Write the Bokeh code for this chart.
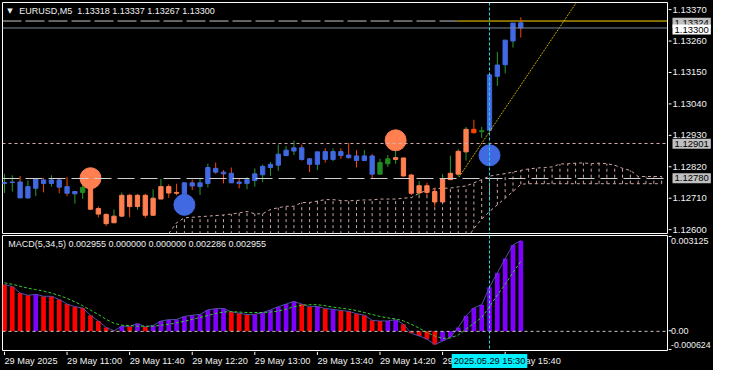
from bokeh.plotting import figure
from bokeh.models import Range1d, Label, Span
from bokeh.layouts import column, row
from bokeh.embed import file_html
from bokeh.resources import INLINE

# ---------------- data ----------------
symbol_title = "EURUSD,M5\u00a0\u00a01.13318 1.13337 1.13267 1.13300"
macd_title = "MACD(5,34,5) 0.002955 0.000000 0.000000 0.002286 0.002955"

body_a = [1.12766, 1.12766, 1.12768, 1.12752, 1.12779, 1.12775, 1.12775, 1.12775, 1.12752, 1.12735,
          1.12749, 1.12765, 1.12676, 1.12656, 1.12650, 1.12722, 1.12722, 1.12722, 1.12722, 1.12712,
          1.12752, 1.12752, 1.12732, 1.12765, 1.12765, 1.12765, 1.12818, 1.12815, 1.12802, 1.12798,
          1.12768, 1.12776, 1.12796, 1.12822, 1.12829, 1.12864, 1.12878, 1.12886, 1.12886, 1.12848,
          1.12872, 1.12873, 1.12873, 1.12873, 1.12861, 1.12858, 1.12858, 1.12858, 1.12835, 1.12848,
          1.12852, 1.12851, 1.12792, 1.12755, 1.12755, 1.12735, 1.12778, 1.12798, 1.12874, 1.12950,
          1.12950, 1.12945, 1.13138, 1.13172, 1.13258, 1.13317, 1.13318]
body_b = [1.12763, 1.12768, 1.12713, 1.12713, 1.12746, 1.12763, 1.12763, 1.12750, 1.12729, 1.12727,
          1.12732, 1.12674, 1.12657, 1.12624, 1.12627, 1.12650, 1.12683, 1.12683, 1.12653, 1.12653,
          1.12709, 1.12730, 1.12729, 1.12727, 1.12754, 1.12752, 1.12763, 1.12802, 1.12796, 1.12765,
          1.12763, 1.12763, 1.12773, 1.12793, 1.12818, 1.12826, 1.12859, 1.12875, 1.12846, 1.12829,
          1.12829, 1.12846, 1.12846, 1.12859, 1.12852, 1.12842, 1.12842, 1.12795, 1.12795, 1.12831,
          1.12846, 1.12789, 1.12729, 1.12730, 1.12732, 1.12699, 1.12699, 1.12776, 1.12795, 1.12872,
          1.12938, 1.12942, 1.12947, 1.13133, 1.13173, 1.13255, 1.13300]
high = [1.12796, 1.12791, 1.12789, 1.12773, 1.12779, 1.12782, 1.12791, 1.12779, 1.12785, 1.12735,
        1.12758, 1.12775, 1.12683, 1.12660, 1.12673, 1.12732, 1.12727, 1.12727, 1.12727, 1.12743,
        1.12779, 1.12760, 1.12762, 1.12765, 1.12776, 1.12782, 1.12831, 1.12835, 1.12809, 1.12818,
        1.12779, 1.12785, 1.12815, 1.12828, 1.12837, 1.12897, 1.12892, 1.12911, 1.12897, 1.12851,
        1.12872, 1.12884, 1.12884, 1.12884, 1.12903, 1.12878, 1.12878, 1.12864, 1.12848, 1.12861,
        1.12879, 1.12851, 1.12796, 1.12771, 1.12765, 1.12749, 1.12795, 1.12859, 1.12881, 1.12958,
        1.12983, 1.12958, 1.13138, 1.13217, 1.13258, 1.13317, 1.13337]
low = [1.12730, 1.12735, 1.12712, 1.12710, 1.12719, 1.12732, 1.12752, 1.12729, 1.12719, 1.12693,
       1.12710, 1.12671, 1.12646, 1.12616, 1.12627, 1.12647, 1.12646, 1.12672, 1.12644, 1.12650,
       1.12709, 1.12713, 1.12722, 1.12705, 1.12740, 1.12723, 1.12749, 1.12796, 1.12763, 1.12765,
       1.12746, 1.12743, 1.12752, 1.12768, 1.12789, 1.12806, 1.12859, 1.12861, 1.12842, 1.12802,
       1.12809, 1.12835, 1.12840, 1.12848, 1.12848, 1.12818, 1.12842, 1.12782, 1.12795, 1.12820,
       1.12831, 1.12786, 1.12723, 1.12721, 1.12721, 1.12683, 1.12699, 1.12776, 1.12787, 1.12842,
       1.12936, 1.12920, 1.12947, 1.13100, 1.13143, 1.13232, 1.13267]
body_kind = list("bbbbbbbbbbgccccccccccccbbbbbbbbbbbbbbbbbbbbbbbbbggccccccccccrgbbbbb")
wick_kind = list("ggrggrgrrggrrrggrgrggrrgrggrrrrgggggggrrgrgrrrgrgggrrgrrggggrgggggr")

time_ticks = [0, 8, 16, 24, 32, 40, 48, 56, 64]
time_labels = ["29 May 2025", "29 May 11:00", "29 May 11:40", "29 May 12:20", "29 May 13:00",
               "29 May 13:40", "29 May 14:20", "29 May 15:00", "29 May 15:40"]
price_ticks = [1.13370, 1.13260, 1.13150, 1.13040, 1.12930, 1.12820, 1.12710, 1.12600]

cloud_x = list(range(21, 85))
cloud_top = [1.12590, 1.12627, 1.12644, 1.12646, 1.12648, 1.12650, 1.12652, 1.12654, 1.12657, 1.12661,
             1.12666, 1.12658, 1.12658, 1.12673, 1.12679, 1.12684, 1.12684, 1.12697, 1.12697, 1.12702,
             1.12707, 1.12707, 1.12704, 1.12703, 1.12704, 1.12706, 1.12706, 1.12709, 1.12709, 1.12709,
             1.12712, 1.12714, 1.12729, 1.12739, 1.12745, 1.12746, 1.12747, 1.12751, 1.12754, 1.12765,
             1.12776, 1.12788, 1.12793, 1.12797, 1.12802, 1.12808, 1.12813, 1.12816, 1.12818, 1.12820,
             1.12830, 1.12831, 1.12833, 1.12834, 1.12831, 1.12833, 1.12831, 1.12826, 1.12815, 1.12808,
             1.12787, 1.12787, 1.12787, 1.12787]
cloud_bottom = [1.12567, 1.12567, 1.12567, 1.12567, 1.12567, 1.12567, 1.12567, 1.12567, 1.12567, 1.12567,
                1.12567, 1.12567, 1.12567, 1.12567, 1.12567, 1.12567, 1.12567, 1.12567, 1.12567, 1.12567,
                1.12567, 1.12567, 1.12567, 1.12567, 1.12567, 1.12567, 1.12567, 1.12567, 1.12567, 1.12567,
                1.12567, 1.12567, 1.12567, 1.12567, 1.12567, 1.12567, 1.12567, 1.12567, 1.12567, 1.12607,
                1.12640, 1.12666, 1.12689, 1.12712, 1.12735, 1.12760, 1.12762, 1.12762, 1.12762, 1.12762,
                1.12762, 1.12762, 1.12762, 1.12762, 1.12762, 1.12762, 1.12762, 1.12762, 1.12762, 1.12762,
                1.12762, 1.12762, 1.12762, 1.12762]

signal_x = [11, 23, 50, 62]
signal_y = [1.12781, 1.12689, 1.12912, 1.12860]
signal_kind = ["sell", "buy", "sell", "buy"]

ask_level = 1.13324
bid_level = 1.13300
pink_level = 1.12901
gray_level = 1.12780
yellow_start = 57.9
trend_x = [58.1, 73.2]
trend_y = [1.12785, 1.13392]
cross_x = 62
cross_label = "2025.05.29 15:30"

macd_hist = [0.001526, 0.001462, 0.001249, 0.001176, 0.001208, 0.001144, 0.001144, 0.001036, 0.000890, 0.000804,
             0.000763, 0.000528, 0.000337, 0.000127, 0.000019, 0.000168, 0.000160, 0.000254, 0.000146, 0.000191,
             0.000337, 0.000381, 0.000385, 0.000486, 0.000528, 0.000550, 0.000699, 0.000741, 0.000745, 0.000636,
             0.000591, 0.000550, 0.000555, 0.000614, 0.000699, 0.000804, 0.000890, 0.000973, 0.000890, 0.000804,
             0.000810, 0.000741, 0.000718, 0.000677, 0.000655, 0.000572, 0.000528, 0.000359, 0.000337, 0.000340,
             0.000381, 0.000232, -0.000064, -0.000149, -0.000254, -0.000426, -0.000318, -0.000191, 0.000127, 0.000509,
             0.000763, 0.000868, 0.001440, 0.001907, 0.002372, 0.002817, 0.002955]
macd_signal = [0.001583, 0.001535, 0.001472, 0.001408, 0.001361, 0.001313, 0.001249, 0.001170, 0.001075, 0.000963,
               0.000836, 0.000693, 0.000550, 0.000391, 0.000264, 0.000200, 0.000184, 0.000168, 0.000168, 0.000168,
               0.000200, 0.000232, 0.000280, 0.000327, 0.000391, 0.000455, 0.000518, 0.000582, 0.000629, 0.000645,
               0.000629, 0.000614, 0.000614, 0.000614, 0.000629, 0.000661, 0.000725, 0.000804, 0.000852, 0.000868,
               0.000868, 0.000836, 0.000788, 0.000757, 0.000725, 0.000677, 0.000614, 0.000550, 0.000486, 0.000439,
               0.000407, 0.000343, 0.000232, 0.000105, -0.000038, -0.000149, -0.000229, -0.000213, -0.000118, 0.000073,
               0.000264, 0.000455, 0.000804, 0.001186, 0.001535, 0.001917, 0.002286]
hist_kind = list("rrrrprrrrrrrrrrprprpppppppppprrrpppppprrprprrrrrrpprrrrrppppppppppp")
macd_ticks = [0.003125, 0.0, -0.000624]
macd_tick_labels = ["0.003125", "0.00", "-0.000624"]

# ---------------- style ----------------
FONT = "Liberation Sans"
BG = "black"
TXT = "#F0F0F0"
BODY_COL = {"b": "#4169E1", "c": "#FF7F50", "g": "#228B22", "r": "#FF4500"}
WICK_COL = {"g": "#2A9A2A", "r": "#FF4500"}
HIST_COL = {"r": "#FF0000", "p": "#8000FF"}
SIG_COL = {"sell": "#FF7F50", "buy": "#4169E1"}
CLOUD_COL = "#CFA6A6"
CROSS_COL = "#22D8E8"
HAS_PAD = "padding" in Label.properties()

idx = list(range(len(body_a)))
x_range = Range1d(-0.25, 84.75)


def add_label(fig, x, y, text, size="9px", color=TXT, align="left", baseline="middle",
              bg=None, font=FONT, y_offset=0, pad=2):
    kw = dict(x=x, y=y, text=text, text_font=font, text_font_size=size, text_color=color,
              text_align=align, text_baseline=baseline, y_offset=y_offset)
    if bg is not None:
        kw["background_fill_color"] = bg
        if HAS_PAD:
            kw["padding"] = pad
    fig.add_layout(Label(**kw))


def base_fig(width, height, xr, yr, left, right, top, bottom, outline=None):
    f = figure(width=width, height=height, x_range=xr, y_range=yr, output_backend="svg",
               toolbar_location=None, x_axis_location=None, y_axis_location=None,
               min_border_left=left, min_border_right=right, min_border_top=top,
               min_border_bottom=bottom, background_fill_color=BG, border_fill_color=BG,
               outline_line_color=outline)
    f.grid.visible = False
    return f


# ---------------- main price panel ----------------
main = base_fig(668, 234, x_range, Range1d(1.12590, 1.13388), 2, 1, 2, 1, outline="white")

main.segment(x0=cloud_x, y0=cloud_bottom, x1=cloud_x, y1=cloud_top, line_color=CLOUD_COL,
             line_dash="3 3", line_width=1)
main.line(cloud_x, cloud_top, line_color=CLOUD_COL, line_dash="3 3", line_width=1)
main.line(cloud_x, cloud_bottom, line_color=CLOUD_COL, line_dash="3 3", line_width=1)

main.line([-0.25, yellow_start], [ask_level, ask_level], line_color="#C8C8C8", line_dash="19 4")
main.line([yellow_start, 84.75], [ask_level, ask_level], line_color="#FFD700", line_width=1)
main.add_layout(Span(location=bid_level, dimension="width", line_color="#778899", line_width=1))
main.add_layout(Span(location=pink_level, dimension="width", line_color="#D8B0B0",
                     line_dash="3 3", line_width=1))
main.add_layout(Span(location=gray_level, dimension="width", line_color="#D0D0D0",
                     line_dash="17 6", line_width=1))

main.segment(x0=idx, y0=low, x1=idx, y1=high,
             line_color=[WICK_COL[k] for k in wick_kind], line_width=1)
bcols = [BODY_COL[k] for k in body_kind]
main.vbar(x=idx, top=body_a, bottom=body_b, width=0.55, fill_color=bcols, line_color=bcols,
          line_width=1)

main.line(trend_x, trend_y, line_color="#FFD700", line_dash="1 1", line_width=1)

main.scatter(signal_x, signal_y, size=21, marker="circle",
             fill_color=[SIG_COL[k] for k in signal_kind],
             line_color=[SIG_COL[k] for k in signal_kind])

main.add_layout(Span(location=cross_x, dimension="height", line_color=CROSS_COL,
                     line_dash="3 2", line_width=1))

add_label(main, 0.35, 1.13360, "\u25bc", size="7px", font="DejaVu Sans")
add_label(main, 1.875, 1.13360, symbol_title, size="9px")

# ---------------- price scale strip (right of main) ----------------
pstrip = base_fig(45, 234, Range1d(0, 45), Range1d(1.125865, 1.133949), 0, 0, 0, 0)
pstrip.segment(x0=0, x1=3, y0=price_ticks, y1=price_ticks, line_color="white", line_width=1)
for t in price_ticks:
    add_label(pstrip, 4, t, f"{t:.5f}", size="9.5px")
add_label(pstrip, 4, ask_level, f"{ask_level:.5f}", size="9.5px", color="black", bg="#C0C0C0")
add_label(pstrip, 4, bid_level, f"{bid_level:.5f}", size="9.5px", color="black", bg="white")
add_label(pstrip, 4, pink_level, f"{pink_level:.5f}", size="9.5px", color="black", bg="#C0C0C0")
add_label(pstrip, 4, gray_level, f"{gray_level:.5f}", size="9.5px", color="black", bg="#C0C0C0")

# ---------------- MACD panel ----------------
macd = base_fig(668, 117, x_range, Range1d(-0.000624, 0.003125), 2, 1, 1, 1, outline="white")
macd.add_layout(Span(location=0, dimension="width", line_color="#C8C8C8", line_dash="3 3",
                     line_width=1))
macd.vbar(x=idx, top=macd_hist, bottom=0, width=0.6,
          fill_color=[HIST_COL[k] for k in hist_kind], line_color=None)
macd.line(idx, macd_hist, line_color="#5050A8", line_width=1)
macd.line(idx, macd_signal, line_color="#32CD32", line_dash="3 2", line_width=1)
macd.add_layout(Span(location=cross_x, dimension="height", line_color=CROSS_COL,
                     line_dash="3 2", line_width=1))
add_label(macd, 0.5, 0.002853, macd_title, size="9px")

mstrip = base_fig(45, 117, Range1d(0, 45), Range1d(-0.0006566, 0.0031576), 0, 0, 0, 0)
mstrip.segment(x0=0, x1=3, y0=macd_ticks, y1=macd_ticks, line_color="white", line_width=1)
add_label(mstrip, 2.5, macd_ticks[0], macd_tick_labels[0], size="9px", baseline="top",
          y_offset=-2)
add_label(mstrip, 2.5, macd_ticks[1], macd_tick_labels[1], size="9px")
add_label(mstrip, 2.5, macd_ticks[2], macd_tick_labels[2], size="8.8px", baseline="bottom",
          y_offset=2)

# ---------------- time scale strip ----------------
tstrip = base_fig(713, 19, x_range, Range1d(0, 19), 2, 46, 0, 0)
tstrip.segment(x0=time_ticks, x1=time_ticks, y0=19, y1=15.5, line_color="white", line_width=1)
for t, s in zip(time_ticks, time_labels):
    add_label(tstrip, t, 9.5, s, size="9.2px")
add_label(tstrip, cross_x, 9.5, cross_label, size="9.2px", color="black", bg="#00F0FF",
          align="center")

layout = column(row(main, pstrip, spacing=0), row(macd, mstrip, spacing=0), tstrip,
                spacing=0, background=BG)
open("out.html", "w").write(file_html(layout, INLINE))
